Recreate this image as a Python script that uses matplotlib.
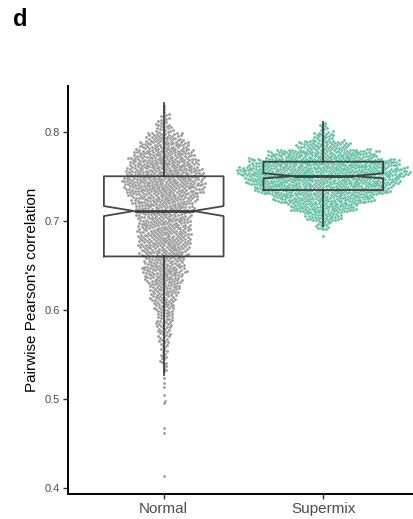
import numpy as np
import matplotlib
matplotlib.use('Agg')
import matplotlib.pyplot as plt

plt.rcParams['font.family'] = ['Liberation Sans', 'DejaVu Sans']

groups = ['Normal', 'Supermix']
colors = ['#9c9c9c', '#66c2a5']
bin_width = 0.01

# lower edge of each 0.01-wide correlation bin and number of pairs in it
normal_bins = [0.82, 0.81, 0.80, 0.79, 0.78, 0.77, 0.76, 0.75, 0.74, 0.73,
               0.72, 0.71, 0.70, 0.69, 0.68, 0.67, 0.66, 0.65, 0.64, 0.63,
               0.62, 0.61, 0.60, 0.59, 0.58, 0.57, 0.56, 0.55, 0.54, 0.53]
normal_counts = [3, 10, 17, 36, 52, 66, 76, 84, 90, 84,
                 70, 62, 56, 56, 56, 57, 50, 42, 48, 40,
                 32, 28, 22, 17, 17, 14, 10, 7, 8, 5]
normal_tail = [0.413, 0.462, 0.467, 0.495, 0.498, 0.504, 0.513, 0.518, 0.524]

supermix_bins = [0.80, 0.79, 0.78, 0.77, 0.76, 0.75, 0.74, 0.73, 0.72, 0.71,
                 0.70, 0.69]
supermix_counts = [9, 22, 56, 118, 166, 188, 170, 150, 112, 74, 40, 15]
supermix_tail = [0.683]

# notched box summaries
normal_box = dict(whislo=0.527, q1=0.660, cilo=0.7053, med=0.711,
                  cihi=0.7165, q3=0.750, whishi=0.832, fliers=[])
supermix_box = dict(whislo=0.694, q1=0.7345, cilo=0.7476, med=0.7502,
                    cihi=0.7533, q3=0.7663, whishi=0.811, fliers=[])

ylo, yhi = 0.3933, 0.8513
xlo, xhi = 0.4, 2.6
ax_w_px, ax_h_px = 351, 408


def expand(bins, counts, tail):
    vals = []
    for lo, n in zip(bins, counts):
        vals.extend(lo + (np.arange(n) + 0.5) * bin_width / n)
    vals.extend(tail)
    return np.sort(np.array(vals))


def swarm(ypx, d):
    # place points bottom-up, each as close to the centre line as it fits
    order = np.argsort(ypx)
    xs = np.zeros(len(ypx))
    px = np.empty(len(ypx))
    py = np.empty(len(ypx))
    k = 0
    start = 0
    for i in order:
        y = ypx[i]
        while start < k and y - py[start] >= d:
            start += 1
        nx = px[start:k]
        ny = py[start:k]
        if k == start:
            x = 0.0
        else:
            dy = y - ny
            off = np.sqrt(np.maximum(d * d - dy * dy, 0))
            cand = np.concatenate([[0.0], nx + off, nx - off])
            cand = cand[np.argsort(np.abs(cand), kind='stable')]
            dist = (cand[:, None] - nx[None, :]) ** 2 + dy[None, :] ** 2
            ok = np.all(dist >= d * d - 1e-6, axis=1)
            x = cand[np.argmax(ok)]
        xs[i] = x
        px[k] = x
        py[k] = y
        k += 1
    return xs


fig = plt.figure(figsize=(4.13, 5.19), dpi=100)
ax = fig.add_axes([68 / 413, 25 / 519, ax_w_px / 413, ax_h_px / 519])

data = [expand(normal_bins, normal_counts, normal_tail),
        expand(supermix_bins, supermix_counts, supermix_tail)]

for pos, vals, col in zip([1, 2], data, colors):
    ypx = (vals - ylo) / (yhi - ylo) * ax_h_px
    xoff = swarm(ypx, 2.9) / (ax_w_px / (xhi - xlo))
    ax.scatter(pos + xoff, vals, s=4.2, color=col, linewidths=0, zorder=2)

line = dict(color='#333333', linewidth=1.3, alpha=0.9)
ax.bxp([normal_box, supermix_box], positions=[1, 2], widths=0.75,
       shownotches=True, showcaps=False, showfliers=False,
       boxprops=line, whiskerprops=line,
       medianprops=dict(color='#333333', linewidth=2.0, alpha=0.9),
       manage_ticks=False, zorder=3)

ax.set_xlim(xlo, xhi)
ax.set_ylim(ylo, yhi)
ax.set_xticks([1, 2])
ax.set_xticklabels(groups, fontsize=11, color='#4d4d4d')
ax.set_yticks([0.4, 0.5, 0.6, 0.7, 0.8])
ax.set_yticklabels(['0.4', '0.5', '0.6', '0.7', '0.8'], fontsize=8, color='#4d4d4d')
ax.tick_params(length=3.5, width=1.0, color='#333333', pad=2)
ax.set_ylabel("Pairwise Pearson's correlation", fontsize=11, labelpad=4)

for side in ['top', 'right']:
    ax.spines[side].set_visible(False)
for side in ['left', 'bottom']:
    ax.spines[side].set_linewidth(1.4)
    ax.spines[side].set_color('black')

fig.text(13 / 413, 1 - 8 / 519, 'd', fontsize=17, fontweight='bold', va='top', ha='left')

fig.savefig('out.png', dpi=100)
